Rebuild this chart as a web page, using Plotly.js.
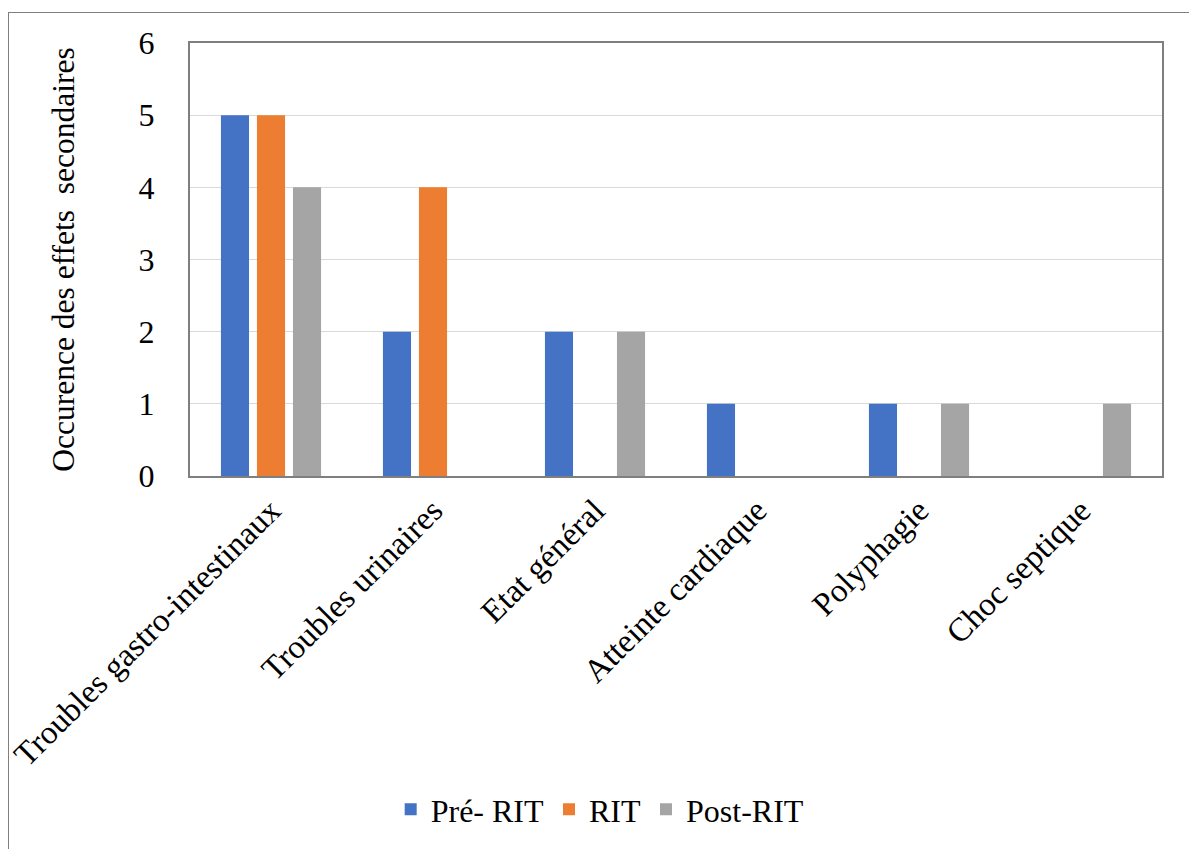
<!DOCTYPE html>
<html><head><meta charset="utf-8">
<script src="https://cdn.plot.ly/plotly-3.0.1.min.js"></script>
<style>
html,body{margin:0;padding:0;overflow:hidden;background:#fff;}
#frame{position:absolute;left:8px;top:12px;width:1300px;height:1000px;border:1.5px solid #7f7f7f;box-sizing:border-box;}
#chart{position:absolute;left:0;top:0;width:1189px;height:849px;}
</style></head>
<body>
<div id="frame"></div>
<div id="chart"></div>
<script>
const categories = ["Troubles gastro-intestinaux","Troubles urinaires","Etat général","Atteinte cardiaque","Polyphagie","Choc septique"];
const preRIT = [5,2,2,1,1,0];
const rit = [5,4,0,0,0,0];
const postRIT = [4,0,2,0,1,1];
const seriesNames = ["Pré- RIT","RIT","Post-RIT"];
const colors = ["#4472C4","#ED7D31","#A5A5A5"];
const font = "Liberation Serif";

const data = [preRIT, rit, postRIT].map((v,i)=>({
  type:"bar", x:categories, y:v, name:seriesNames[i],
  marker:{color:colors[i]}
}));

const layout = {
  width:1189, height:849,
  paper_bgcolor:"rgba(0,0,0,0)", plot_bgcolor:"#fff",
  margin:{l:190,r:27,t:43,b:371},
  barmode:"group", bargap:0.333, bargroupgap:0.22,
  font:{family:font,color:"#000",size:32},
  xaxis:{tickangle:-45, tickfont:{size:33,family:font,color:"#000"}, showline:true, mirror:true,
         linecolor:"#7f7f7f", linewidth:2, ticks:"", showgrid:false},
  yaxis:{range:[0,6], dtick:1, tickfont:{size:32,family:font,color:"#000"}, showline:true, mirror:true,
         linecolor:"#7f7f7f", linewidth:2, gridcolor:"#d9d9d9", gridwidth:1, ticks:"",
         ticklabelstandoff:27, zeroline:false,
         title:{text:"Occurence des effets  secondaires", font:{size:31.5,family:font,color:"#000"}, standoff:55}},
  legend:{orientation:"h", x:0.422, xanchor:"center", y:-0.77, yanchor:"middle",
          font:{size:32,family:font,color:"#000"}, itemwidth:30, traceorder:"normal"},
  showlegend:true
};
Plotly.newPlot("chart", data, layout, {displayModeBar:false, staticPlot:true});
</script>
</body></html>
